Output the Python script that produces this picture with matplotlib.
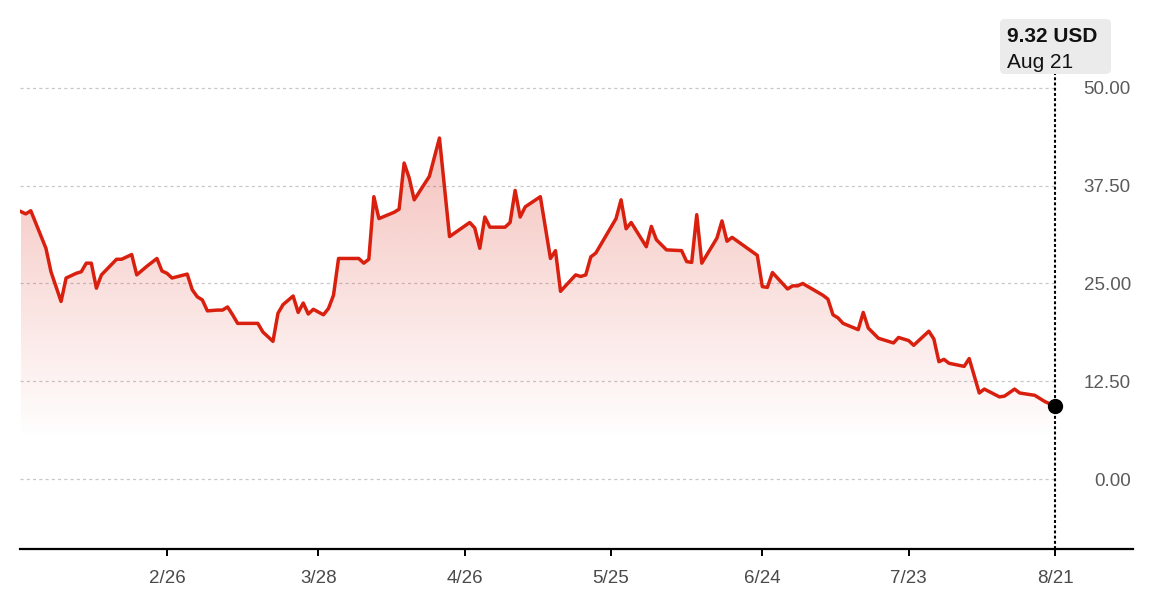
import numpy as np
import pandas as pd
import matplotlib
matplotlib.use('Agg')
import matplotlib.pyplot as plt
import matplotlib.dates as mdates
from matplotlib.patches import Polygon, FancyBboxPatch
from matplotlib.transforms import IdentityTransform
from matplotlib.ticker import FormatStrFormatter

plt.rcParams['font.family'] = ['Liberation Sans', 'DejaVu Sans']

# 价格数据
dates = [
    '2025-01-28', '2025-01-29', '2025-01-30', '2025-02-02', '2025-02-03', '2025-02-05',
    '2025-02-06', '2025-02-08', '2025-02-09', '2025-02-10', '2025-02-11', '2025-02-12',
    '2025-02-13', '2025-02-16', '2025-02-17', '2025-02-19', '2025-02-20', '2025-02-22',
    '2025-02-24', '2025-02-25', '2025-02-26', '2025-02-27', '2025-03-02', '2025-03-03',
    '2025-03-04', '2025-03-05', '2025-03-06', '2025-03-08', '2025-03-09', '2025-03-10',
    '2025-03-11', '2025-03-12', '2025-03-16', '2025-03-17', '2025-03-19', '2025-03-20',
    '2025-03-21', '2025-03-23', '2025-03-24', '2025-03-25', '2025-03-26', '2025-03-27',
    '2025-03-29', '2025-03-30', '2025-03-31', '2025-04-01', '2025-04-05', '2025-04-06',
    '2025-04-07', '2025-04-08', '2025-04-09', '2025-04-12', '2025-04-13', '2025-04-14',
    '2025-04-15', '2025-04-16', '2025-04-19', '2025-04-21', '2025-04-23', '2025-04-27',
    '2025-04-28', '2025-04-29', '2025-04-30', '2025-05-01', '2025-05-04', '2025-05-05',
    '2025-05-06', '2025-05-07', '2025-05-08', '2025-05-11', '2025-05-13', '2025-05-14',
    '2025-05-15', '2025-05-18', '2025-05-19', '2025-05-20', '2025-05-21', '2025-05-22',
    '2025-05-26', '2025-05-27', '2025-05-28', '2025-05-29', '2025-06-01', '2025-06-02',
    '2025-06-03', '2025-06-05', '2025-06-08', '2025-06-09', '2025-06-10', '2025-06-11',
    '2025-06-12', '2025-06-15', '2025-06-16', '2025-06-17', '2025-06-18', '2025-06-23',
    '2025-06-24', '2025-06-25', '2025-06-26', '2025-06-29', '2025-06-30', '2025-07-01',
    '2025-07-02', '2025-07-06', '2025-07-07', '2025-07-08', '2025-07-09', '2025-07-10',
    '2025-07-13', '2025-07-14', '2025-07-15', '2025-07-17', '2025-07-20', '2025-07-21',
    '2025-07-23', '2025-07-24', '2025-07-27', '2025-07-28', '2025-07-29', '2025-07-30',
    '2025-07-31', '2025-08-03', '2025-08-04', '2025-08-06', '2025-08-07', '2025-08-10',
    '2025-08-11', '2025-08-13', '2025-08-14', '2025-08-17', '2025-08-18', '2025-08-19',
    '2025-08-21',
]
prices = [
    34.2, 33.9, 34.3, 29.5, 26.5, 22.7,
    25.7, 26.3, 26.5, 27.6, 27.6, 24.4,
    26.1, 28.1, 28.1, 28.7, 26.1, 27.2,
    28.2, 26.6, 26.3, 25.7, 26.2, 24.2,
    23.3, 22.9, 21.5, 21.6, 21.6, 22.0,
    21.0, 19.9, 19.9, 18.8, 17.6, 21.2,
    22.3, 23.4, 21.3, 22.5, 21.1, 21.7,
    21.0, 21.8, 23.5, 28.2, 28.2, 27.6,
    28.1, 36.1, 33.3, 34.1, 34.5, 40.4,
    38.5, 35.7, 38.7, 43.6, 31.0, 32.8,
    32.1, 29.5, 33.5, 32.2, 32.2, 32.8,
    36.9, 33.5, 34.8, 36.1, 28.2, 29.2,
    24.0, 26.1, 25.9, 26.1, 28.4, 28.9,
    33.3, 35.7, 32.0, 32.8, 29.7, 32.3,
    30.6, 29.3, 29.2, 27.8, 27.7, 33.8,
    27.6, 30.8, 33.0, 30.4, 30.9, 28.6,
    24.6, 24.5, 26.4, 24.3, 24.7, 24.7,
    25.0, 23.5, 23.0, 21.0, 20.6, 19.9,
    19.1, 21.3, 19.3, 18.0, 17.4, 18.1,
    17.7, 17.1, 18.9, 17.9, 15.0, 15.3,
    14.8, 14.4, 15.4, 11.0, 11.5, 10.5,
    10.6, 11.5, 11.0, 10.7, 10.3, 9.9,
    9.32,
]

# 坐标轴刻度
y_ticks = [0, 12.5, 25, 37.5, 50]
x_tick_dates = ['2025-02-26', '2025-03-28', '2025-04-26', '2025-05-25',
                '2025-06-24', '2025-07-23', '2025-08-21']
x_tick_labels = ['2/26', '3/28', '4/26', '5/25', '6/24', '7/23', '8/21']
currency = 'USD'
last_date_label = 'Aug 21'

LINE_COLOR = '#d9200f'
W, H = 1168, 611


def plot_price(dates, prices):
    x = mdates.date2num(pd.to_datetime(dates))
    y = np.array(prices, dtype=float)

    fig = plt.figure(figsize=(W / 100, H / 100), dpi=100)
    ax = fig.add_axes([20 / W, 62 / H, 1113 / W, 549 / H])

    # 折线
    ax.plot(pd.to_datetime(dates), y, color=LINE_COLOR, linewidth=2.5,
            solid_joinstyle='round', zorder=3)

    # 渐变填充
    grad = np.zeros((256, 1, 4))
    grad[..., :3] = matplotlib.colors.to_rgb(LINE_COLOR)
    grad[:, 0, 3] = np.linspace(0.0, 0.28, 256)
    im = ax.imshow(grad, extent=[x[0], x[-1], 5, 44], origin='lower',
                   aspect='auto', interpolation='bilinear', zorder=1)
    poly = Polygon(np.column_stack([np.r_[x[0], x, x[-1]], np.r_[-9, y, -9]]),
                   closed=True, facecolor='none', edgecolor='none',
                   transform=ax.transData)
    ax.add_patch(poly)
    im.set_clip_path(poly)

    # 坐标范围
    x_ref = mdates.date2num(pd.Timestamp('2025-02-26'))
    ax.set_xlim(x_ref - 29.14, x_ref + 191.47)
    ax.set_ylim(-8.95, 61.25)

    # 网格线（点线）
    ax.hlines(y_ticks, x_ref - 29.14, x[-1], colors='#c8c8c8',
              linestyles=(0, (2.5, 2.5)), linewidth=0.9, zorder=0)

    # x 轴
    ax.set_xticks(mdates.date2num(pd.to_datetime(x_tick_dates)))
    ax.set_xticklabels(x_tick_labels)
    ax.tick_params(axis='x', length=5, width=1.4, color='black',
                   labelsize=13.5, labelcolor='#4a4a4a', pad=10)

    # y 轴（右侧，标签在轴内）
    ax.set_yticks(y_ticks)
    ax.yaxis.set_major_formatter(FormatStrFormatter('%.2f'))
    ax.yaxis.tick_right()
    ax.tick_params(axis='y', length=0, labelsize=13.5, labelcolor='#5a5a5a', pad=-1.5)
    for t in ax.yaxis.get_major_ticks():
        t.label2.set_horizontalalignment('right')

    for side in ['left', 'right', 'top']:
        ax.spines[side].set_visible(False)
    ax.spines['bottom'].set_linewidth(1.6)
    ax.spines['bottom'].set_color('black')

    # 最新价格：竖虚线 + 圆点
    ax.axvline(x[-1], ymin=0, ymax=(549 - 74) / 549, color='black',
               linewidth=1.5, linestyle=(0, (1.4, 1.1)), zorder=4)
    ax.plot(x[-1], y[-1], 'o', color='black', markersize=10, zorder=5, clip_on=False)

    # 提示框
    box = FancyBboxPatch((1000, H - 74), 111, 55,
                         boxstyle='round,pad=0,rounding_size=5',
                         facecolor='#ebebeb', edgecolor='none',
                         transform=IdentityTransform(), zorder=6)
    fig.patches.append(box)
    fig.text(1007 / W, 1 - 42 / H, f'{y[-1]:.2f} {currency}', fontsize=15,
             fontweight='bold', color='#111111', ha='left', va='baseline', zorder=7)
    fig.text(1007 / W, 1 - 67.5 / H, last_date_label, fontsize=15,
             color='#111111', ha='left', va='baseline', zorder=7)

    fig.savefig('out.png', dpi=100)


if __name__ == "__main__":
    plot_price(dates, prices)
